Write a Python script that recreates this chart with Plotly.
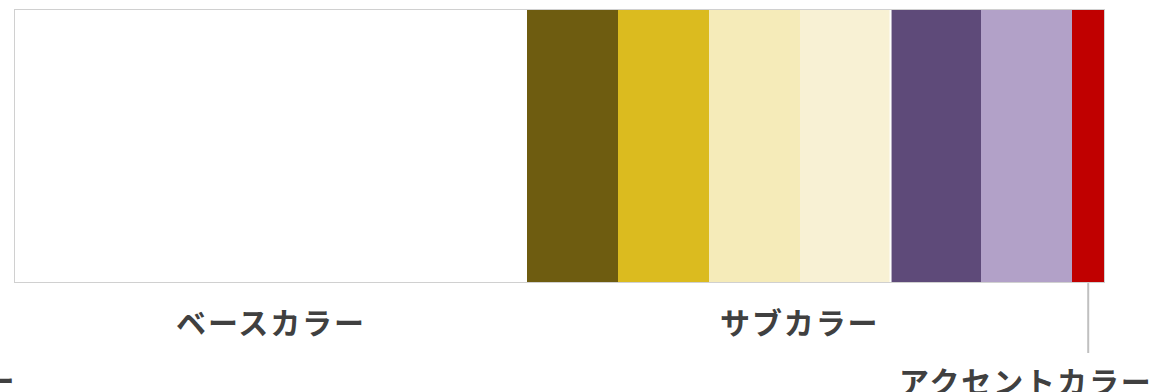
import plotly.graph_objects as go

# Colour palette shares (% of total area)
segment_names = ["ベース", "サブ1", "サブ2", "サブ3", "サブ4", "サブ5", "サブ6", "アクセント"]
segment_shares = [47.0, 8.35, 8.35, 8.35, 8.35, 8.35, 8.35, 2.9]
segment_colors = ["#FFFFFF", "#6E5C10", "#DBBB1F", "#F5EBB9", "#F8F1D4", "#5E4A79", "#B2A1C8", "#C00000"]
segment_groups = ["base", "sub", "sub", "sub", "sub", "sub", "sub", "accent"]

group_labels = {"base": "ベースカラー", "sub": "サブカラー", "accent": "アクセントカラー"}
extra_label = "メインカラー"

FONT = "Noto Sans CJK JP"
TEXT_COLOR = "#404040"
LABEL_FONT = dict(family=FONT, size=30, color=TEXT_COLOR, weight="bold")

fig = go.Figure()
for name, share, color in zip(segment_names, segment_shares, segment_colors):
    fig.add_trace(go.Bar(
        y=["palette"], x=[share], name=name, orientation="h",
        marker=dict(color=color, line=dict(width=0)),
        width=1.0, showlegend=False, hoverinfo="skip",
    ))

# cumulative edges of each segment
edges = [0.0]
for s in segment_shares:
    edges.append(edges[-1] + s)
total = edges[-1]

# extent of each group
group_span = {}
for i, g in enumerate(segment_groups):
    lo, hi = group_span.get(g, (edges[i], edges[i + 1]))
    group_span[g] = (min(lo, edges[i]), max(hi, edges[i + 1]))

def spaced(t):
    return f'<span style="letter-spacing:1.9px">{t}</span>'

annotations = []
for g in ("base", "sub"):
    lo, hi = group_span[g]
    annotations.append(dict(
        x=(lo + hi) / 2, xref="x", y=-0.142, yref="paper",
        text=spaced(group_labels[g]), showarrow=False,
        xanchor="center", yanchor="middle", font=LABEL_FONT,
    ))

# accent label sits to the lower right, reached by a leader line
annotations.append(dict(
    x=1.047, xref="paper", y=-0.362, yref="paper",
    text=spaced(group_labels["accent"]), showarrow=False,
    xanchor="right", yanchor="middle", font=LABEL_FONT,
))
annotations.append(dict(
    x=0.003, xref="paper", y=-0.356, yref="paper",
    text=spaced(extra_label), showarrow=False,
    xanchor="right", yanchor="middle", font=LABEL_FONT,
))

lo, hi = group_span["accent"]
accent_mid = (lo + hi) / 2
shapes = [
    dict(type="line", xref="x", yref="paper", x0=accent_mid, x1=accent_mid,
         y0=-0.004, y1=-0.261, line=dict(color="#C0C0C0", width=2)),
    # thin white divider between the two sub-colour pairs
    dict(type="line", xref="x", yref="paper", x0=edges[5], x1=edges[5],
         y0=0, y1=1, line=dict(color="#FFFFFF", width=2)),
]

fig.update_layout(
    barmode="stack",
    width=1158, height=392,
    margin=dict(l=15, r=54, t=10, b=110),
    paper_bgcolor="white", plot_bgcolor="white",
    bargap=0,
    xaxis=dict(range=[0, total], showgrid=False, zeroline=False, showticklabels=False,
               showline=True, mirror=True, linecolor="#D0D0D0", linewidth=1, fixedrange=True),
    yaxis=dict(range=[-0.5, 0.5], showgrid=False, zeroline=False, showticklabels=False,
               showline=True, mirror=True, linecolor="#D0D0D0", linewidth=1, fixedrange=True),
    annotations=annotations,
    shapes=shapes,
)

fig.write_html("out.html")
